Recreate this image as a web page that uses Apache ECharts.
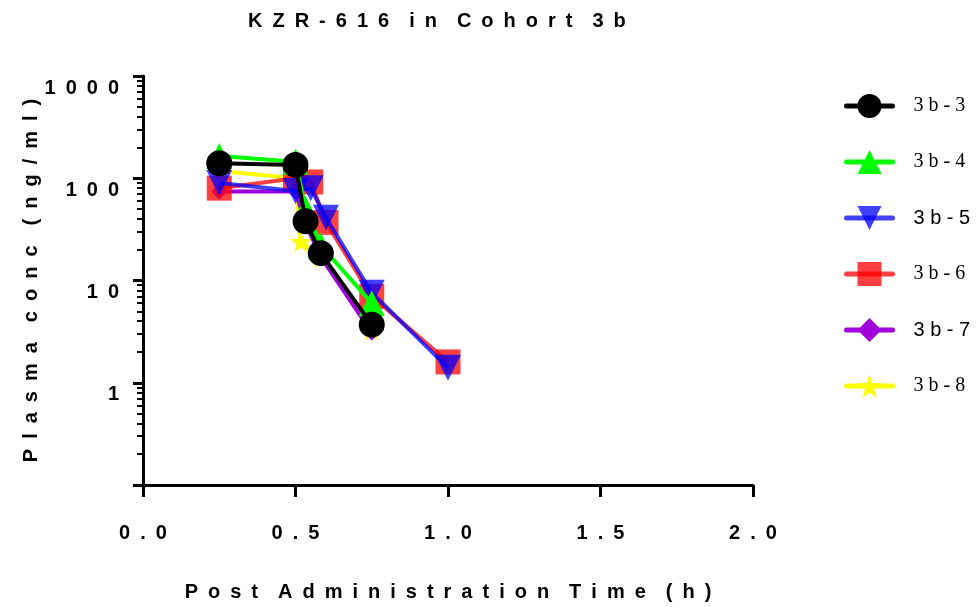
<!DOCTYPE html>
<html>
<head>
<meta charset="utf-8">
<title>KZR-616 in Cohort 3b</title>
<script src="https://cdn.jsdelivr.net/npm/echarts@6/dist/echarts.min.js"></script>
<style>
    html, body {margin: 0; padding: 0; background: #fff;}
    #chart {width: 976px; height: 607px;}
</style>
</head>
<body>
<div id="chart"></div>
<script>
    // sample values, [time (h), conc (ng/ml)]
    var names = ["3b-3", "3b-4", "3b-5", "3b-6", "3b-7", "3b-8"];
    var s3b3 = [[0.25, 140], [0.5, 135], [0.533, 38], [0.583, 18.5], [0.75, 3.7]];
    var s3b4 = [[0.25, 165], [0.5, 145], [0.533, 50], [0.583, 22], [0.75, 6]];
    var s3b5 = [[0.25, 90], [0.5, 75], [0.55, 80], [0.6, 41], [0.75, 7.6], [1.0, 1.4]];
    var s3b6 = [[0.25, 80], [0.5, 100], [0.55, 92], [0.6, 37], [0.75, 7], [1.0, 1.6]];
    var s3b7 = [[0.25, 74], [0.5, 74], [0.533, 36], [0.583, 17], [0.75, 3.1]];
    var s3b8 = [[0.25, 118], [0.5, 100], [0.517, 24], [0.583, 17], [0.75, 3.3]];
    var xTicks = [0, 0.5, 1.0, 1.5, 2.0];
    var yTicks = [1, 10, 100, 1000];

    (function (d, w) {
        "use strict";
        var FONT = "Liberation Sans";
        var STAR = "path://M50,0 L61,35 L98,35 L68,57 L79,91 L50,70 L21,91 L32,57 L2,35 L39,35 Z";
        var GAP = "\u2002\u2002";

        // GraphPad style letter spacing
        var spaced = function (s) {
            return s.split("").join("\u2002");
        };

        var _minorTicks = function () {
            var v = [];
            for (var e = -1; e < 3; e++) {
                for (var k = 2; k <= 9; k++) {
                    v.push(k * Math.pow(10, e));
                }
            }
            return v;
        };

        var _series = function (name, data, color, symbol, size, rotate, z) {
            return {
                name: name,
                type: "line",
                data: data,
                z: z,
                symbol: symbol,
                symbolSize: size,
                symbolRotate: rotate,
                lineStyle: {color: color, width: 4},
                itemStyle: {color: color, opacity: 1},
                emphasis: {disabled: true},
                animation: false
            };
        };

        var _init = function () {
            var myChart = echarts.init(d.getElementById("chart"));
            var option = {
                backgroundColor: "#fff",
                title: {
                    text: spaced("KZR-616") + GAP + spaced("in") + GAP + spaced("Cohort") + GAP + spaced("3b"),
                    left: 243,
                    top: 6,
                    textStyle: {fontFamily: FONT, fontWeight: "bold", fontSize: 20, color: "#000"}
                },
                grid: {left: 143, top: 76, width: 610, height: 411},
                legend: {
                    data: names,
                    orient: "vertical",
                    left: 839,
                    top: 89,
                    itemWidth: 46,
                    itemHeight: 30,
                    itemGap: 32,
                    selectedMode: false,
                    lineStyle: {width: 5, cap: "round"},
                    formatter: function (name) {
                        var key = (name === "3b-5" || name === "3b-7") ? "s" : "t";
                        return "{" + key + "|" + name.split("").join(" ") + "}";
                    },
                    textStyle: {
                        padding: [0, 0, 0, 16],
                        rich: {
                            t: {fontFamily: "Liberation Serif", fontSize: 20, color: "#000"},
                            s: {fontFamily: FONT, fontSize: 20, color: "#000"}
                        }
                    }
                },
                xAxis: {
                    type: "value",
                    min: 0,
                    max: 2,
                    interval: 0.5,
                    name: spaced("Post") + GAP + spaced("Administration") + GAP + spaced("Time") + GAP + spaced("(h)"),
                    nameLocation: "middle",
                    nameGap: 97,
                    nameMoveOverlap: false,
                    nameTextStyle: {fontFamily: FONT, fontWeight: "bold", fontSize: 20, color: "#000"},
                    axisLine: {lineStyle: {color: "#000", width: 3}},
                    axisTick: {length: 12, lineStyle: {color: "#000", width: 3}},
                    axisLabel: {
                        margin: 38,
                        fontFamily: FONT, fontWeight: "bold", fontSize: 20, color: "#000",
                        formatter: function (v) {
                            return spaced(v.toFixed(1));
                        }
                    },
                    splitLine: {show: false}
                },
                yAxis: [{
                    type: "log",
                    logBase: 10,
                    min: 0.1,
                    max: 1000,
                    name: spaced("Plasma") + GAP + spaced("conc") + GAP + spaced("(ng/ml)"),
                    nameLocation: "middle",
                    nameGap: 102,
                    nameMoveOverlap: false,
                    nameTextStyle: {fontFamily: FONT, fontWeight: "bold", fontSize: 20, color: "#000"},
                    axisLine: {lineStyle: {color: "#000", width: 3}},
                    axisTick: {length: 10, lineStyle: {color: "#000", width: 3}},
                    axisLabel: {
                        margin: 24,
                        verticalAlign: "top",
                        padding: [2, 0, 0, 0],
                        fontFamily: FONT, fontWeight: "bold", fontSize: 20, color: "#000",
                        formatter: function (v) {
                            return v < 0.5 ? "" : spaced(String(Math.round(v)));
                        }
                    },
                    splitLine: {show: false}
                }, {
                    type: "log",
                    logBase: 10,
                    min: 0.1,
                    max: 1000,
                    position: "left",
                    offset: 0,
                    axisLine: {show: false},
                    axisTick: {customValues: _minorTicks(), length: 6, lineStyle: {color: "#000", width: 2}},
                    axisLabel: {show: false},
                    splitLine: {show: false}
                }],
                series: [
                    _series("3b-8", s3b8, "#ffff00", STAR, 22, 0, 2),
                    _series("3b-7", s3b7, "#a000dc", "diamond", 16, 0, 3),
                    _series("3b-6", s3b6, "rgba(255,0,0,0.75)", "rect", 25, 0, 4),
                    _series("3b-5", s3b5, "rgba(0,0,255,0.75)", "triangle", 26, 180, 5),
                    _series("3b-4", s3b4, "#00ff00", "triangle", 26, 0, 6),
                    _series("3b-3", s3b3, "#000000", "circle", 26, 0, 7)
                ]
            };
            myChart.setOption(option);
        };

        _init();
    })(document, window);
</script>
</body>
</html>
